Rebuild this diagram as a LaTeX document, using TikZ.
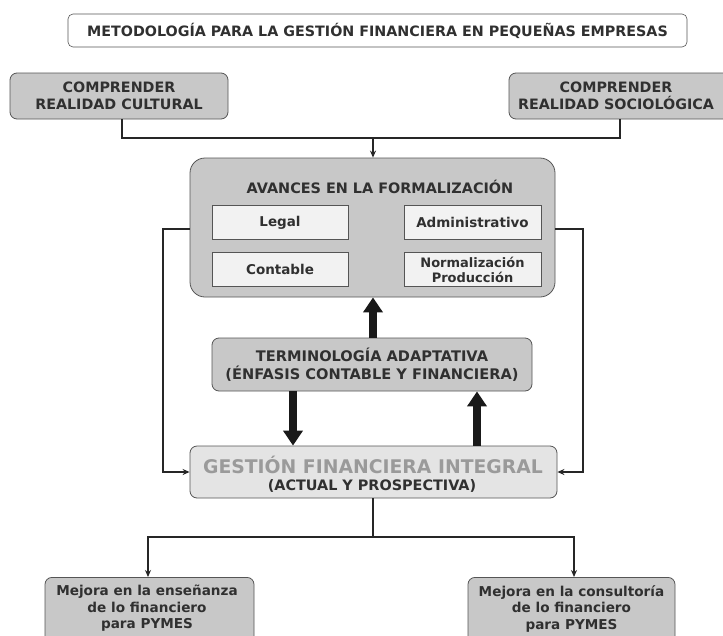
\documentclass[tikz,border=0pt]{standalone}
\usepackage{fontspec}
\setmainfont{DejaVu Sans}
\usetikzlibrary{arrows.meta}
\definecolor{boxgray}{HTML}{C8C8C8}
\definecolor{innerfill}{HTML}{F2F2F2}
\definecolor{gestfill}{HTML}{E4E4E4}
\definecolor{txt}{HTML}{303030}
\definecolor{gtxt}{HTML}{9A9A9A}
\definecolor{edge}{HTML}{555555}
\begin{document}
\begin{tikzpicture}[x=1pt,y=-1pt,
  base/.style={rectangle, align=center, inner sep=0pt, text=txt, font=\bfseries},
  graybox/.style={base, fill=boxgray, draw=edge, line width=0.8pt, rounded corners=7pt},
  innerbox/.style={base, fill=innerfill, draw=edge, line width=0.8pt, minimum height=34pt},
  thin/.style={draw=black!85, line width=1.4pt},
  thinarrow/.style={thin, -{Stealth[length=7pt,width=6pt]}},
  thick arrow/.style={draw=black!90, line width=8pt, -{Triangle[length=15pt,width=19pt]}}
]
\useasboundingbox (0,0) rectangle (723,635);
\fill[white] (0,0) rectangle (723,635);

% title
\node[base, draw=edge, line width=0.6pt, fill=white, rounded corners=5pt, minimum width=619pt, minimum height=33pt, font=\fontsize{14.3}{16}\selectfont\bfseries] (title) at (377.5,30.5) {METODOLOGÍA PARA LA GESTIÓN FINANCIERA EN PEQUEÑAS EMPRESAS};

% top boxes
\node[graybox, minimum width=218pt, minimum height=46pt, font=\fontsize{14.3}{17}\selectfont\bfseries] (cult) at (119,96) {COMPRENDER\\REALIDAD CULTURAL};
\draw[graybox] (509,73) rectangle (760,119);
\node[base, font=\fontsize{14.3}{17}\selectfont\bfseries] (soc) at (616,96) {COMPRENDER\\REALIDAD SOCIOLÓGICA};
\coordinate (socb) at (620,119);
\coordinate (join) at (373,138);

% avances
\node[graybox, rounded corners=15pt, minimum width=365pt, minimum height=139pt] (av) at (372.5,227.5) {};
\node[base, font=\fontsize{14.4}{16}\selectfont\bfseries] (avt) at (380,187) {AVANCES EN LA FORMALIZACIÓN};
\node[innerbox, minimum width=136pt, font=\fontsize{13.5}{15}\selectfont\bfseries] (legal) at (280,222.5) {Legal};
\node[innerbox, minimum width=137pt, font=\fontsize{13.5}{15}\selectfont\bfseries] (adm) at (472.5,222.5) {Administrativo};
\node[innerbox, minimum width=136pt, font=\fontsize{13.5}{15}\selectfont\bfseries] (cont) at (280,269.5) {Contable};
\node[innerbox, minimum width=137pt, font=\fontsize{13}{15}\selectfont\bfseries] (norm) at (472.5,269.5) {Normalización\\Producción};

% terminologia
\node[graybox, minimum width=320pt, minimum height=53pt, font=\fontsize{14.6}{18}\selectfont\bfseries] (term) at (372,364.5) {TERMINOLOGÍA ADAPTATIVA\\(ÉNFASIS CONTABLE Y FINANCIERA)};

% gestion
\node[base, fill=gestfill, draw=edge, line width=0.8pt, rounded corners=7pt, minimum width=367pt, minimum height=52pt] (gest) at (373.5,472) {};
\node[base, text=gtxt, font=\fontsize{18.8}{20}\selectfont\bfseries] (gest1) at (373,465) {GESTIÓN FINANCIERA INTEGRAL};
\node[base, font=\fontsize{14.4}{16}\selectfont\bfseries] (gest2) at (372,486) {(ACTUAL Y PROSPECTIVA)};

% bottom boxes
\node[graybox, minimum width=209pt, minimum height=90pt, anchor=north] (ens) at (149.5,577) {};
\node[base, font=\fontsize{13.6}{16.5}\selectfont\bfseries, anchor=north] (enst) at (147,585) {Mejora en la enseñanza\\de lo financiero\\para PYMES};
\node[graybox, minimum width=207pt, minimum height=90pt, anchor=north] (con) at (571.5,577) {};
\node[base, font=\fontsize{13.6}{16.5}\selectfont\bfseries, anchor=north] (cont2) at (571.5,585) {Mejora en la consultoría\\de lo financiero\\para PYMES};

% connectors top
\draw[thin] (cult.south -| 122,0) |- (join) -| (socb);
\draw[thinarrow] (join) -- (join |- av.north);

% thick arrows
\draw[thick arrow] (term.north -| 373,0) -- (av.south -| 373,0);
\draw[thick arrow] (term.south -| 293,0) -- (gest.north -| 293,0);
\draw[thick arrow] (gest.north -| 477,0) -- (term.south -| 477,0);

% side loops
\coordinate (lx) at (163,229);
\coordinate (rx) at (583,229);
\draw[thinarrow] (av.west |- lx) -- (lx) |- (gest.west);
\draw[thinarrow] (av.east |- rx) -- (rx) |- (gest.east);

% bottom
\coordinate (split) at (373,537);
\draw[thin] (gest.south -| split) -- (split);
\draw[thinarrow] (split) -| (ens.north -| 148,0);
\draw[thinarrow] (split) -| (con.north -| 574,0);
\end{tikzpicture}
\end{document}
